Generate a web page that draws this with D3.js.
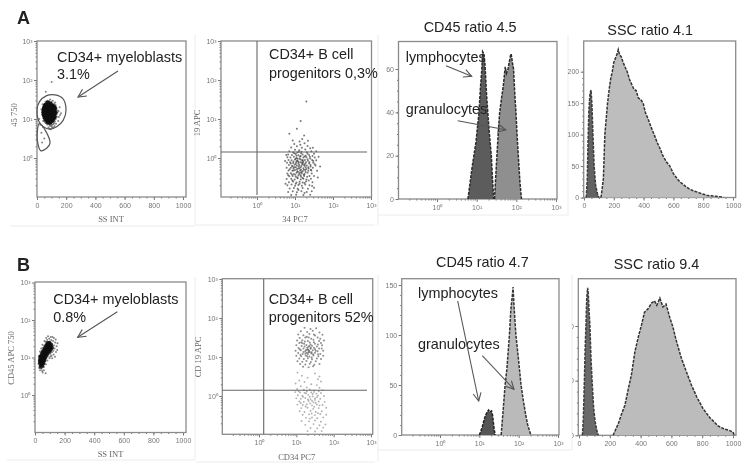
<!DOCTYPE html>
<html>
<head>
<meta charset="utf-8">
<script src="https://cdnjs.cloudflare.com/ajax/libs/d3/7.8.5/d3.min.js"></script>
<style>
  html, body { margin: 0; background: #fff; }
  svg { display: block; }
  text { font-family: "Liberation Sans", Arial, sans-serif; }
</style>
</head>
<body>
<div id="chart-area"></div>
<script>
// values. scatter values: [side scatter or log10 x, log10 y]
var a1Core = [[74,1.41],[91,1.39],[61,1.36],[79,1.37],[96,1.35],[109,1.33],[54,1.32],[70,1.33],[86,1.31],[101,1.32],[116,1.3],[50,1.27],[65,1.28],[78,1.26],[94,1.28],[106,1.25],[121,1.26],[47,1.22],[59,1.23],[75,1.21],[87,1.23],[103,1.2],[115,1.22],[46,1.17],[58,1.16],[71,1.18],[86,1.15],[99,1.18],[113,1.16],[124,1.17],[48,1.12],[62,1.11],[74,1.13],[90,1.1],[102,1.13],[118,1.11],[52,1.07],[66,1.06],[81,1.08],[93,1.05],[109,1.07],[119,1.05],[58,1.02],[71,1.01],[85,1.03],[99,1.0],[111,1.02],[66,0.97],[80,0.96],[94,0.98],[105,0.96],[76,0.92],[90,0.91],[82,1.2],[68,1.25],[95,1.12],[80,1.1],[60,1.2],[105,1.15],[88,1.28]];
var a1Halo = [[30,1.25],[36,1.1],[38,1.38],[42,0.95],[130,1.32],[135,1.12],[128,1.0],[142,1.22],[118,0.9],[104,0.85],[88,0.83],[70,0.86],[58,0.9],[48,0.97],[125,1.42],[108,1.47],[90,1.5],[70,1.47],[150,1.05],[155,1.3],[112,0.78],[95,0.74],[78,0.78],[130,0.88],[145,0.95],[165,1.15],[40,0.8],[30,0.65],[22,0.85],[50,0.5],[35,0.4],[15,1.0],[100,1.95],[60,1.7],[134,1.27],[128,1.19],[137,1.06],[123,0.94],[112,0.87],[97,0.82],[83,0.86],[64,0.89],[52,0.93],[43,1.02],[39,1.17],[41,1.29],[48,1.38],[58,1.44],[82,1.46],[99,1.44],[117,1.4],[127,1.36],[140,1.16],[148,1.2],[120,0.82],[103,0.79],[86,0.75],[158,1.1]];
var a1Gate = [[0,1.23],[16,1.44],[66,1.6],[123,1.62],[176,1.53],[199,1.23],[180,0.97],[135,0.8],[89,0.74],[43,0.8],[9,0.97]];
var a1Gate2 = [[16,0.89],[55,0.72],[89,0.38],[66,0.25],[25,0.19],[2,0.46],[2,0.67]];

var a2Cloud = [[1.12,0.42],[0.98,0.36],[1.25,0.38],[1.05,0.3],[1.33,0.31],[0.9,0.27],[1.18,0.26],[1.4,0.25],[1.0,0.21],[1.11,0.2],[1.27,0.22],[0.85,0.17],[0.95,0.15],[1.06,0.14],[1.17,0.16],[1.31,0.15],[1.43,0.17],[1.5,0.11],[0.82,0.09],[0.92,0.08],[1.02,0.1],[1.09,0.07],[1.2,0.09],[1.28,0.06],[1.37,0.08],[1.46,0.05],[0.8,0.02],[0.88,0.01],[0.97,0.03],[1.04,0],[1.13,0.03],[1.22,0.01],[1.3,0.02],[1.4,-0.01],[1.52,0.01],[0.83,-0.05],[0.91,-0.06],[1.0,-0.04],[1.07,-0.07],[1.15,-0.04],[1.19,-0.07],[1.26,-0.05],[1.34,-0.07],[1.45,-0.05],[1.56,-0.06],[0.79,-0.12],[0.87,-0.11],[0.95,-0.13],[1.03,-0.11],[1.09,-0.14],[1.14,-0.11],[1.21,-0.13],[1.29,-0.11],[1.37,-0.14],[1.48,-0.12],[0.84,-0.18],[0.92,-0.2],[0.99,-0.17],[1.05,-0.19],[1.11,-0.18],[1.17,-0.2],[1.24,-0.17],[1.31,-0.19],[1.41,-0.18],[1.54,-0.19],[0.78,-0.25],[0.89,-0.25],[0.96,-0.27],[1.02,-0.24],[1.08,-0.27],[1.15,-0.24],[1.22,-0.26],[1.28,-0.24],[1.36,-0.27],[1.47,-0.25],[0.83,-0.32],[0.93,-0.33],[1.0,-0.31],[1.06,-0.34],[1.13,-0.32],[1.2,-0.34],[1.27,-0.31],[1.35,-0.33],[1.43,-0.32],[1.58,-0.33],[0.8,-0.4],[0.89,-0.39],[0.97,-0.41],[1.04,-0.38],[1.11,-0.41],[1.18,-0.39],[1.25,-0.41],[1.33,-0.38],[1.44,-0.4],[0.85,-0.47],[0.94,-0.46],[1.02,-0.48],[1.09,-0.45],[1.16,-0.48],[1.24,-0.46],[1.32,-0.48],[1.5,-0.46],[0.78,-0.54],[0.9,-0.53],[0.99,-0.55],[1.07,-0.52],[1.15,-0.55],[1.22,-0.53],[1.3,-0.55],[1.42,-0.53],[0.84,-0.62],[0.95,-0.6],[1.04,-0.63],[1.12,-0.61],[1.2,-0.63],[1.29,-0.6],[1.46,-0.62],[0.8,-0.7],[0.91,-0.68],[1.0,-0.71],[1.09,-0.69],[1.18,-0.71],[1.27,-0.68],[1.38,-0.7],[0.86,-0.78],[0.97,-0.77],[1.07,-0.79],[1.2,-0.77],[1.34,-0.79],[1.5,-0.76],[0.82,-0.87],[0.94,-0.85],[1.05,-0.88],[1.17,-0.85],[1.31,-0.87],[1.44,-0.85],[0.9,-0.95],[1.03,-0.94],[1.22,-0.95],[1.4,-0.94],[1.15,0.95],[1.05,0.75],[0.85,0.62],[1.24,0.58],[1.3,1.45],[1.12,-0.02],[1.1,-0.22],[1.18,-0.12],[1.07,-0.02],[1.16,-0.3],[1.02,-0.15],[1.25,-0.2],[1.13,-0.38],[1.2,-0.05],[0.98,-0.24],[1.05,-0.08]];
var a2Dense = [[1.15,0.05],[1.22,-0.09],[1.09,-0.1],[1.02,-0.02],[0.96,-0.09],[1.27,-0.15],[1.33,-0.03],[1.38,-0.11],[1.19,-0.16],[1.12,-0.26],[1.05,-0.29],[1.23,-0.3],[0.94,-0.22],[1.3,-0.28],[1.17,-0.36],[1.08,-0.36],[1.01,-0.43],[0.96,-0.32],[1.23,-0.43],[1.35,-0.24],[1.41,-0.22],[1.28,-0.36],[1.15,-0.44],[1.06,-0.5],[1.2,-0.51],[0.92,-0.42],[1.38,-0.46],[0.89,-0.14],[1.25,0.04],[1.16,0.12],[1.04,0.06],[1.33,0.11],[0.98,0.12],[1.1,0.16],[1.39,0.03],[1.48,-0.08],[1.42,-0.3],[1.52,-0.16],[0.86,-0.29],[0.82,-0.44],[0.93,-0.58],[1.12,-0.66],[1.25,-0.64],[1.36,-0.58],[1.02,-0.66],[0.75,-0.66],[1.6,-0.5],[1.66,-0.22],[1.62,0.03],[0.74,-0.08],[0.77,0.08],[1.56,0.17],[1.47,0.26],[1.14,0.34],[0.94,0.45],[1.34,0.44],[1.19,0.49],[1.09,-0.82],[1.25,-0.9],[1.45,-0.72]];

var b1Core = [[40,0.76],[48,0.8],[36,0.84],[44,0.86],[54,0.85],[34,0.91],[42,0.92],[51,0.91],[61,0.92],[38,0.97],[47,0.98],[56,0.97],[66,0.99],[36,1.02],[44,1.03],[53,1.03],[62,1.04],[72,1.05],[48,1.08],[58,1.09],[68,1.1],[79,1.09],[54,1.14],[64,1.15],[74,1.15],[85,1.15],[95,1.16],[62,1.2],[72,1.21],[82,1.2],[92,1.22],[104,1.21],[70,1.26],[80,1.27],[90,1.26],[100,1.28],[112,1.26],[78,1.32],[88,1.33],[98,1.32],[108,1.34],[86,1.38],[97,1.39],[50,1.0],[46,0.94],[60,1.0],[70,1.17],[85,1.28]];
var b1Halo = [[28,0.72],[34,0.66],[44,0.7],[56,0.75],[62,0.82],[70,0.9],[76,0.98],[86,1.02],[92,1.08],[104,1.1],[114,1.14],[124,1.18],[132,1.24],[128,1.32],[136,1.4],[122,1.44],[110,1.47],[96,1.5],[82,1.47],[70,1.42],[62,1.32],[54,1.26],[46,1.18],[38,1.12],[30,1.04],[26,0.94],[24,0.84],[72,0.58],[52,0.6],[146,1.3],[118,1.55],[88,1.57],[104,1.03],[60,0.66],[142,1.15],[100,1.38],[120,1.25],[152,1.38],[140,1.48],[128,1.52],[106,1.55],[76,1.52],[64,1.44],[50,1.34],[42,1.24],[34,1.16],[126,1.08],[112,1.05],[98,0.98],[84,0.92],[74,0.82],[60,0.75],[48,0.64],[150,1.2],[135,1.02],[116,0.98]];

var b2Upper = [[1.22,1.75],[1.38,1.72],[1.53,1.74],[1.12,1.66],[1.29,1.64],[1.44,1.67],[1.62,1.63],[1.05,1.58],[1.19,1.56],[1.35,1.59],[1.5,1.55],[1.7,1.57],[1.09,1.49],[1.24,1.5],[1.4,1.47],[1.57,1.5],[1.02,1.42],[1.16,1.43],[1.31,1.41],[1.46,1.44],[1.61,1.41],[1.74,1.42],[1.08,1.36],[1.21,1.34],[1.36,1.37],[1.5,1.34],[1.66,1.36],[1.0,1.3],[1.14,1.28],[1.27,1.31],[1.33,1.26],[1.42,1.29],[1.55,1.27],[1.69,1.3],[1.06,1.23],[1.19,1.22],[1.29,1.24],[1.38,1.21],[1.47,1.24],[1.61,1.22],[0.98,1.16],[1.12,1.17],[1.24,1.15],[1.32,1.18],[1.36,1.13],[1.44,1.17],[1.57,1.15],[1.72,1.16],[1.05,1.1],[1.17,1.08],[1.28,1.11],[1.4,1.09],[1.5,1.11],[1.64,1.08],[1.0,1.03],[1.13,1.02],[1.25,1.04],[1.35,1.01],[1.46,1.04],[1.59,1.02],[1.72,1.03],[1.08,0.96],[1.2,0.95],[1.31,0.97],[1.42,0.94],[1.55,0.96],[1.66,0.95],[1.03,0.89],[1.16,0.88],[1.27,0.9],[1.39,0.87],[1.52,0.89],[1.1,0.82],[1.24,0.81],[1.36,0.83],[1.48,0.8],[1.62,0.82],[1.18,0.75],[1.33,0.74],[1.45,0.76],[1.3,1.2],[1.34,1.16],[1.39,1.24],[1.26,1.18],[1.35,1.28],[1.22,1.27],[1.41,1.12],[1.31,1.08],[1.16,1.35],[1.5,1.2],[1.28,1.52],[1.13,1.38],[1.47,1.38],[1.58,1.32],[1.23,1.4],[1.38,1.32],[1.09,1.2],[1.24,1.09],[1.52,1.16],[1.45,1.07],[1.33,1.12],[1.19,1.13],[1.11,1.06],[1.29,1.02],[1.41,0.99],[1.58,1.07],[1.68,1.22],[1.64,1.47],[1.47,1.58],[1.33,1.5]];
var b2Lower = [[1.03,0.6],[1.5,0.58],[1.15,0.52],[1.62,0.5],[1.3,0.47],[1.58,0.43],[1.08,0.4],[1.22,0.36],[1.66,0.37],[0.98,0.32],[1.4,0.3],[1.55,0.28],[1.12,0.25],[1.28,0.22],[1.62,0.21],[1.02,0.18],[1.2,0.16],[1.36,0.17],[1.48,0.14],[1.7,0.15],[0.97,0.1],[1.1,0.09],[1.26,0.07],[1.4,0.09],[1.54,0.06],[1.66,0.08],[1.04,0.02],[1.16,0.01],[1.32,0.03],[1.44,-0.01],[1.58,0.01],[1.74,0],[1.0,-0.06],[1.12,-0.07],[1.24,-0.05],[1.38,-0.08],[1.5,-0.06],[1.64,-0.07],[1.08,-0.14],[1.2,-0.15],[1.33,-0.13],[1.46,-0.16],[1.6,-0.14],[1.76,-0.15],[1.03,-0.22],[1.17,-0.23],[1.28,-0.21],[1.42,-0.24],[1.55,-0.22],[1.7,-0.23],[1.13,-0.31],[1.3,-0.3],[1.45,-0.33],[1.6,-0.31],[1.8,-0.3],[1.09,-0.39],[1.22,-0.41],[1.38,-0.38],[1.52,-0.41],[1.68,-0.39],[1.17,-0.48],[1.34,-0.47],[1.5,-0.49],[1.64,-0.46],[1.8,-0.48],[1.26,-0.56],[1.42,-0.55],[1.56,-0.57],[1.72,-0.55],[1.14,-0.64],[1.34,-0.65],[1.5,-0.63],[1.66,-0.66],[1.24,-0.74],[1.46,-0.72],[1.62,-0.75],[1.78,-0.73],[1.38,-0.82],[1.56,-0.83],[1.72,-0.81],[1.3,-0.9],[1.5,-0.91],[1.68,-0.9],[1.44,0.05],[1.5,-0.1],[1.36,-0.02],[1.28,0.12],[1.18,-0.02],[1.31,-0.09],[1.42,-0.12],[1.55,-0.03],[1.22,0.08],[1.12,-0.18],[1.37,-0.19],[1.52,-0.18],[1.47,0.1],[1.6,0.12],[1.06,0.12],[1.25,-0.27],[1.48,-0.28],[1.62,-0.24],[1.41,-0.45],[1.58,-0.44],[1.36,-0.58]];

// histograms: [log10 x or ssc, count]
var a3Lymph = [[0.78,0],[0.83,7],[0.88,14],[0.93,20],[0.98,26],[1.02,33],[1.06,40],[1.09,50],[1.13,60],[1.15,68],[1.18,67],[1.21,62],[1.25,48],[1.28,40],[1.33,28],[1.37,20],[1.4,9],[1.43,0]];
var a3Gran = [[1.45,0],[1.48,10],[1.51,20],[1.55,32],[1.58,40],[1.63,47],[1.67,52],[1.72,61],[1.75,58],[1.79,60],[1.82,63],[1.85,66],[1.87,67],[1.9,63],[1.93,60],[1.96,49],[1.99,40],[2.02,29],[2.05,20],[2.09,8],[2.13,0]];
var a4Dark = [[15,0],[22,30],[27,90],[33,140],[40,165],[47,171],[53,150],[60,100],[68,50],[78,20],[90,6],[100,0]];
var a4Gray = [[114,0],[122,14],[130,30],[140,100],[150,128],[158,150],[170,174],[180,190],[190,200],[200,215],[212,222],[222,228],[230,235],[240,226],[250,224],[262,215],[275,208],[290,200],[305,188],[320,180],[335,172],[350,170],[365,158],[380,156],[397,150],[412,135],[430,125],[450,112],[471,100],[490,88],[510,78],[530,66],[555,56],[576,50],[600,38],[625,30],[643,25],[680,18],[710,13],[743,10],[790,6],[832,3],[880,2],[922,1],[935,0]];

var b3Lymph = [[1.0,0],[1.04,4],[1.08,9],[1.12,15],[1.16,20],[1.2,23],[1.235,25],[1.27,23],[1.31,24],[1.34,19],[1.37,8],[1.4,0]];
var b3Gran = [[1.555,0],[1.6,22],[1.655,50],[1.7,66],[1.765,100],[1.8,125],[1.84,140],[1.857,148],[1.88,130],[1.93,100],[2.0,74],[2.06,50],[2.12,34],[2.18,20],[2.23,10],[2.31,0]];
var b4Dark = [[22,0],[28,30],[35,100],[40,160],[45,200],[50,250],[56,270],[60,262],[66,225],[71,200],[78,140],[85,100],[95,50],[105,25],[115,10],[125,0]];
var b4Gray = [[222,0],[240,12],[255,21],[275,38],[298,55],[320,85],[340,110],[363,153],[385,180],[406,202],[425,225],[450,232],[471,242],[490,246],[505,238],[525,251],[545,235],[565,240],[590,215],[610,198],[630,175],[665,141],[695,118],[730,92],[765,70],[805,49],[850,32],[880,24],[903,17],[940,12],[975,9],[1000,6],[1008,0]];

var linearTicks = [0, 200, 400, 600, 800, 1000];
var logTicks = [1, 10, 100, 1000];
var logLabels = {1: "10\u2070", 10: "10\u00b9", 100: "10\u00b2", 1000: "10\u00b3"};
var logMinor = [];
[0.1, 1, 10, 100].forEach(function (m) {
  [2, 3, 4, 5, 6, 7, 8, 9].forEach(function (k) { logMinor.push(m * k); });
});

var svg = d3.select("#chart-area").append("svg")
  .attr("width", 747)
  .attr("height", 471);

// the reference is a slightly soft scan
var defs = svg.append("defs");
defs.append("filter").attr("id", "soft")
  .append("feGaussianBlur").attr("stdDeviation", 0.55);
var root = svg.append("g").attr("filter", "url(#soft)");
defs.append("marker")
  .attr("id", "head").attr("markerUnits", "userSpaceOnUse")
  .attr("viewBox", "0 0 10 10").attr("refX", 9).attr("refY", 5)
  .attr("markerWidth", 10).attr("markerHeight", 10).attr("orient", "auto")
  .append("path").attr("d", "M1 1 L9 5 L1 9").attr("fill", "none").attr("stroke", "#555").attr("stroke-width", 1.1);

// faint frames left over from the pasted panels
var frames = [
  [195, 35, 195, 226], [10, 226, 195, 226], [196, 225, 375, 225],
  [378, 35, 378, 225], [378, 215, 568, 215], [568, 35, 568, 215],
  [195, 277, 195, 460], [7, 460, 195, 460], [196, 462, 375, 462],
  [378, 275, 378, 462], [378, 450, 572, 450], [572, 275, 572, 450]
];
root.selectAll("line.frame").data(frames).join("line").attr("class", "frame")
  .attr("x1", function (d) { return d[0]; }).attr("y1", function (d) { return d[1]; })
  .attr("x2", function (d) { return d[2]; }).attr("y2", function (d) { return d[3]; })
  .attr("stroke", "#ececec").attr("stroke-width", 1);

function makeScale(log, dom, range) {
  return (log ? d3.scaleLog() : d3.scaleLinear()).domain(dom).range(range);
}

// draws box, axes and labels, returns the panel with its scales
function panel(p) {
  var g = root.append("g");
  var x = makeScale(p.xLog, p.xDom, p.xRange);
  var y = makeScale(p.yLog, p.yDom, p.yRange);
  var fx = p.xLog ? function (v) { return Math.pow(10, v); } : function (v) { return v; };
  var fy = p.yLog ? function (v) { return Math.pow(10, v); } : function (v) { return v; };
  var H = p.box[3], L = p.box[0];

  var xMinor = p.xLog ? logMinor : d3.range(0, 1001, 50);
  var yMinor = p.yLog ? logMinor : d3.range(0, p.yTicks[p.yTicks.length - 1] + 1, p.yStep);

  var minorX = d3.axisBottom(x).tickValues(xMinor.filter(function (v) { return x(v) > L && x(v) <= p.box[2]; })).tickSize(1.5).tickFormat("");
  var minorY = d3.axisLeft(y).tickValues(yMinor.filter(function (v) { return y(v) > p.box[1] && y(v) <= H; })).tickSize(1.5).tickFormat("");
  var majorX = d3.axisBottom(x).tickValues(p.xLog ? logTicks : linearTicks).tickSize(3).tickPadding(3)
    .tickFormat(function (v) { return p.xLog ? logLabels[v] : v; });
  var majorY = d3.axisLeft(y).tickValues(p.yLog ? logTicks : p.yTicks).tickSize(3).tickPadding(1.5)
    .tickFormat(function (v) { return p.yLog ? logLabels[v] : v; });

  var holder = g;
  if (p.clipX) {
    // tick numbers of this panel are cut off by the pasted crop
    defs.append("clipPath").attr("id", "cropY").append("rect")
      .attr("x", p.clipX).attr("y", 270).attr("width", 30).attr("height", 180);
    holder = g.append("g").attr("clip-path", "url(#cropY)");
  }
  [[minorX, "b", g], [majorX, "b", g], [minorY, "l", g], [majorY, "l", holder]].forEach(function (a) {
    var ax = a[2].append("g").attr("transform", a[1] == "b" ? "translate(0," + H + ")" : "translate(" + L + ",0)").call(a[0]);
    ax.select(".domain").remove();
    ax.selectAll("line").attr("stroke", "#777");
    ax.selectAll("text").attr("fill", "#777").style("font-size", "7px");
  });

  g.append("rect")
    .attr("x", p.box[0]).attr("y", p.box[1])
    .attr("width", p.box[2] - p.box[0]).attr("height", p.box[3] - p.box[1])
    .attr("fill", "none").attr("stroke", "#8a8a8a").attr("stroke-width", 1.3);

  if (p.xLabel) {
    g.append("text").attr("x", p.xLabel[1]).attr("y", p.xLabel[2]).attr("text-anchor", "middle")
      .attr("fill", "#666").style("font-size", "8.5px").style("font-family", "'Liberation Serif', serif").text(p.xLabel[0]);
    g.append("text").attr("transform", "translate(" + p.yLabel[1] + "," + p.yLabel[2] + ") rotate(-90)")
      .attr("text-anchor", "middle").attr("fill", "#666").style("font-size", "8.5px")
      .style("font-family", "'Liberation Serif', serif").text(p.yLabel[0]);
  }
  return { g: g, x: x, y: y, fx: fx, fy: fy };
}

function dots(p, data, r, color, opacity) {
  p.g.append("g").selectAll("circle").data(data).join("circle")
    .attr("cx", function (d) { return p.x(p.fx(d[0])); })
    .attr("cy", function (d) { return p.y(p.fy(d[1])); })
    .attr("r", r).attr("fill", color).attr("fill-opacity", opacity);
}

function gate(p, data) {
  var line = d3.line()
    .x(function (d) { return p.x(p.fx(d[0])); })
    .y(function (d) { return p.y(p.fy(d[1])); })
    .curve(d3.curveCatmullRomClosed.alpha(0.5));
  p.g.append("path").attr("d", line(data)).attr("fill", "none").attr("stroke", "#555").attr("stroke-width", 1.2);
}

function histogram(p, data, fill, edge) {
  var area = d3.area()
    .x(function (d) { return p.x(p.fx(d[0])); })
    .y0(p.y(0))
    .y1(function (d) { return p.y(d[1]); });
  p.g.append("path").attr("d", area(data)).attr("fill", fill);
  p.g.append("path").attr("d", area.lineY1()(data)).attr("fill", "none")
    .attr("stroke", edge).attr("stroke-width", 1.5).attr("stroke-dasharray", "3 1.2");
}

// ---- A row
var a1 = panel({ box: [37, 41, 186, 197], xDom: [0, 1000], xRange: [37, 183], yLog: true, yDom: [1, 1000], yRange: [158, 41],
  xLabel: ["SS INT", 111, 222], yLabel: ["45 750", 17, 115] });
dots(a1, a1Halo, 1, "#333", 0.6);
dots(a1, a1Core, 2.4, "#0c0c0c", 0.95);
gate(a1, a1Gate);
gate(a1, a1Gate2);

var a2 = panel({ box: [221, 41, 371.5, 197], xLog: true, xDom: [1, 1000], xRange: [257, 371], yLog: true, yDom: [1, 1000], yRange: [158, 41],
  xLabel: ["34 PC7", 295, 222], yLabel: ["19 APC", 200, 123] });
dots(a2, a2Cloud, 1, "#222", 0.6);
dots(a2, a2Dense, 1, "#222", 0.6);

var a3 = panel({ box: [398.5, 41.5, 557, 199], xLog: true, xDom: [1, 1000], xRange: [437, 556], yDom: [0, 60], yRange: [199, 69], yTicks: [0, 20, 40, 60], yStep: 5 });
histogram(a3, a3Lymph, "#5c5c5c", "#2a2a2a");
histogram(a3, a3Gran, "#8f8f8f", "#2a2a2a");

var a4 = panel({ box: [583.7, 41, 735.7, 197.5], xDom: [0, 1000], xRange: [584, 733], yDom: [0, 200], yRange: [197.5, 71.7], yTicks: [0, 50, 100, 150, 200], yStep: 10 });
histogram(a4, a4Dark, "#626262", "#3a3a3a");
histogram(a4, a4Gray, "#bdbdbd", "#333");

// ---- B row
var b1 = panel({ box: [35, 282, 186, 432.5], xDom: [0, 1000], xRange: [35, 183], yLog: true, yDom: [1, 1000], yRange: [395, 282.5],
  xLabel: ["SS INT", 110.5, 457], yLabel: ["CD45 APC 750", 14, 358] });
dots(b1, b1Halo, 1, "#333", 0.6);
dots(b1, b1Core, 2.2, "#111", 0.9);

var b2 = panel({ box: [222.3, 278.7, 372.7, 434.3], xLog: true, xDom: [1, 1000], xRange: [259, 371], yLog: true, yDom: [1, 1000], yRange: [396, 279],
  xLabel: ["CD34 PC7", 296.7, 460], yLabel: ["CD 19 APC", 201, 357] });
dots(b2, b2Upper, 1, "#333", 0.55);
dots(b2, b2Lower, 0.95, "#444", 0.42);

var b3 = panel({ box: [401.7, 278.7, 559, 435], xLog: true, xDom: [1, 1000], xRange: [440, 558], yDom: [0, 150], yRange: [435, 285], yTicks: [0, 50, 100, 150], yStep: 10 });
histogram(b3, b3Lymph, "#555", "#222");
histogram(b3, b3Gran, "#bababa", "#333");

var b4 = panel({ box: [578.3, 278.7, 736, 435.3], xDom: [0, 1000], xRange: [579, 733], yDom: [0, 200], yRange: [435.3, 326], yTicks: [0, 100, 200], yStep: 20, clipX: 572 });
histogram(b4, b4Dark, "#6a6a6a", "#3a3a3a");
histogram(b4, b4Gray, "#bcbcbc", "#333");

// quadrant lines on the two gated dot plots
var quads = [[257, 41, 257, 195], [221, 152, 367, 152], [263.7, 279, 263.7, 434], [222, 390.3, 367, 390.3]];
root.append("g").selectAll("line").data(quads).join("line")
  .attr("x1", function (d) { return d[0]; }).attr("y1", function (d) { return d[1]; })
  .attr("x2", function (d) { return d[2]; }).attr("y2", function (d) { return d[3]; })
  .attr("stroke", "#666").attr("stroke-width", 1.1);

// annotations
var notes = [
  ["A", 17, 24, 18, "bold"], ["B", 17, 270.7, 18, "bold"],
  ["CD34+ myeloblasts", 57, 61.7, 14.4], ["3.1%", 57, 79.3, 14.4],
  ["CD34+ B cell", 269, 59.3, 14.4], ["progenitors 0,3%", 269, 78.3, 14.4],
  ["CD45 ratio 4.5", 423.7, 32.3, 14.4], ["SSC ratio 4.1", 607.3, 35, 14.4],
  ["lymphocytes", 405.7, 62.3, 14.4], ["granulocytes", 405.7, 114.3, 14.4],
  ["CD34+ myeloblasts", 53.3, 304.3, 14.4], ["0.8%", 53.3, 322.3, 14.4],
  ["CD34+ B cell", 268.7, 304, 14.4], ["progenitors 52%", 268.7, 322.3, 14.4],
  ["CD45 ratio 4.7", 436, 267.3, 14.4], ["SSC ratio 9.4", 613.7, 269.3, 14.4],
  ["lymphocytes", 418, 298.3, 14.4], ["granulocytes", 418, 349.3, 14.4]
];
root.append("g").selectAll("text").data(notes).join("text")
  .attr("x", function (d) { return d[1]; }).attr("y", function (d) { return d[2]; })
  .attr("fill", "#222").style("font-size", function (d) { return d[3] + "px"; })
  .style("font-weight", function (d) { return d[4] || "normal"; })
  .text(function (d) { return d[0]; });

var arrows = [
  [118, 71, 78, 97], [446, 65.7, 471.7, 76.3], [457.7, 120.7, 505.7, 129.7],
  [117.3, 311.7, 77.7, 337.3], [457.7, 301, 478.7, 401], [482.3, 355.7, 514, 389.3]
];
root.append("g").selectAll("line").data(arrows).join("line")
  .attr("x1", function (d) { return d[0]; }).attr("y1", function (d) { return d[1]; })
  .attr("x2", function (d) { return d[2]; }).attr("y2", function (d) { return d[3]; })
  .attr("stroke", "#555").attr("stroke-width", 1.1).attr("marker-end", "url(#head)");
</script>
</body>
</html>
